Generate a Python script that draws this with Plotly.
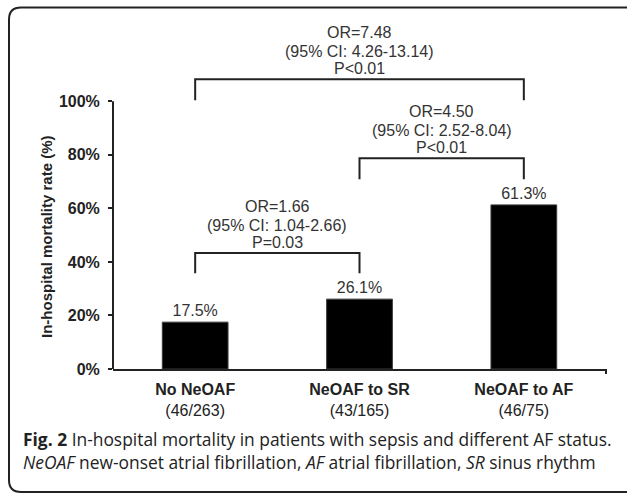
import plotly.graph_objects as go

# ---------------- data ----------------
categories = ["No NeOAF", "NeOAF to SR", "NeOAF to AF"]
counts = ["(46/263)", "(43/165)", "(46/75)"]
mortality = [17.5, 26.1, 61.3]
bar_labels = ["17.5%", "26.1%", "61.3%"]

y_ticks = [0, 20, 40, 60, 80, 100]
y_tick_labels = ["0%", "20%", "40%", "60%", "80%", "100%"]
y_title = "In-hospital mortality rate (%)"

cmp_left = [0, 1, 0]
cmp_right = [1, 2, 2]
cmp_or = ["OR=1.66", "OR=4.50", "OR=7.48"]
cmp_ci = ["(95% CI: 1.04-2.66)", "(95% CI: 2.52-8.04)", "(95% CI: 4.26-13.14)"]
cmp_p = ["P=0.03", "P<0.01", "P<0.01"]
cmp_top = [43.3, 78.7, 108.2]
cmp_leg = [35.8, 70.9, 100.4]

caption_1 = "<b>Fig. 2</b> In-hospital mortality in patients with sepsis and different AF status."
caption_2 = "<i>NeOAF</i> new-onset atrial fibrillation, <i>AF</i> atrial fibrillation, <i>SR</i> sinus rhythm"

# ---------------- layout constants ----------------
W, H = 627, 494
L, R, T, B = 113, 21, 21, 125
PW, PH = W - L - R, H - T - B
FONT = "Arial, 'Liberation Sans', sans-serif"
CAP_FONT = "'Open Sans', 'Noto Sans', sans-serif"
INK = "#222222"
TXT = "#333333"


def xp(px):
    return (px - L) / PW


def yp(py):
    return (H - B - py) / PH


x_pos = list(range(len(categories)))
tick_text = [f"<b>{c}</b><br><span style='font-size:16px'>{n}</span>" for c, n in zip(categories, counts)]

fig = go.Figure()
fig.add_trace(go.Bar(
    x=x_pos, y=mortality, width=0.4,
    marker=dict(color="#000000", line=dict(color="#3a3a3a", width=1)),
    text=bar_labels, textposition="outside", cliponaxis=False,
    textfont=dict(family=FONT, size=16, color=TXT),
    hoverinfo="skip",
))

shapes = []
annotations = []

# comparison brackets
for i in range(len(cmp_or)):
    a, b = cmp_left[i], cmp_right[i]
    top, leg = cmp_top[i], cmp_leg[i]
    shapes.append(dict(
        type="path", xref="x", yref="y",
        path=f"M {a},{leg} L {a},{top} L {b},{top} L {b},{leg}",
        line=dict(color=INK, width=2),
    ))
    mid = (a + b) / 2
    for txt, shift in ((cmp_or[i], 47), (cmp_ci[i], 28), (cmp_p[i], 11)):
        annotations.append(dict(
            x=mid, y=top, xref="x", yref="y", text=txt, showarrow=False,
            xanchor="center", yanchor="middle", yshift=shift,
            font=dict(family=FONT, size=16, color=TXT),
        ))

# y axis line (stops at 100%)
shapes.append(dict(type="line", xref="paper", yref="y", x0=0, x1=0, y0=0, y1=max(y_ticks),
                   line=dict(color=INK, width=2)))
# right end tick of x axis
shapes.append(dict(type="line", xref="paper", yref="paper", x0=1, x1=1, y0=0, y1=yp(H - B + 5),
                   line=dict(color=INK, width=2)))

# outer rounded frame
fx0, fx1 = xp(9), xp(660)
fy0, fy1 = yp(7.5), yp(492)
rx, ry = 12 / PW, 12 / PH
shapes.append(dict(
    type="path", xref="paper", yref="paper", layer="below",
    path=(f"M {fx1},{fy0} L {fx0 + rx},{fy0} Q {fx0},{fy0} {fx0},{fy0 - ry} "
          f"L {fx0},{fy1 + ry} Q {fx0},{fy1} {fx0 + rx},{fy1} L {fx1},{fy1}"),
    line=dict(color=INK, width=2),
))

# y axis title
annotations.append(dict(x=xp(46), y=yp(237), xref="paper", yref="paper",
                        text=f"<b>{y_title}</b>", textangle=-90, showarrow=False,
                        xanchor="center", yanchor="middle",
                        font=dict(family=FONT, size=15, color=INK)))

# caption
annotations.append(dict(x=xp(21), y=yp(439), xref="paper", yref="paper", text=caption_1,
                        showarrow=False, xanchor="left", yanchor="middle",
                        font=dict(family=CAP_FONT, size=17.4, color="#222222")))
annotations.append(dict(x=xp(21), y=yp(462), xref="paper", yref="paper", text=caption_2,
                        showarrow=False, xanchor="left", yanchor="middle",
                        font=dict(family=CAP_FONT, size=17.4, color="#222222")))

fig.update_layout(
    width=W, height=H,
    margin=dict(l=L, r=R, t=T, b=B, pad=0),
    paper_bgcolor="white", plot_bgcolor="white",
    showlegend=False,
    shapes=shapes, annotations=annotations,
    font=dict(family=FONT, color=INK),
    xaxis=dict(
        range=[-0.5, 2.5], tickvals=x_pos, ticktext=tick_text,
        showline=True, linecolor=INK, linewidth=2, ticks="",
        showgrid=False, zeroline=False, ticklabelstandoff=5,
        tickfont=dict(family=FONT, size=16, color=INK),
    ),
    yaxis=dict(
        range=[0, 130], tickvals=y_ticks,
        ticktext=[f"<b>{t}</b>" for t in y_tick_labels],
        showline=False, ticks="outside", ticklen=4, tickwidth=2, tickcolor=INK,
        showgrid=False, zeroline=False, ticklabelstandoff=5,
        tickfont=dict(family=FONT, size=16, color=INK),
    ),
)

fig.write_html("out.html", config={"displayModeBar": False},
               post_script="document.body.style.margin='0';")
